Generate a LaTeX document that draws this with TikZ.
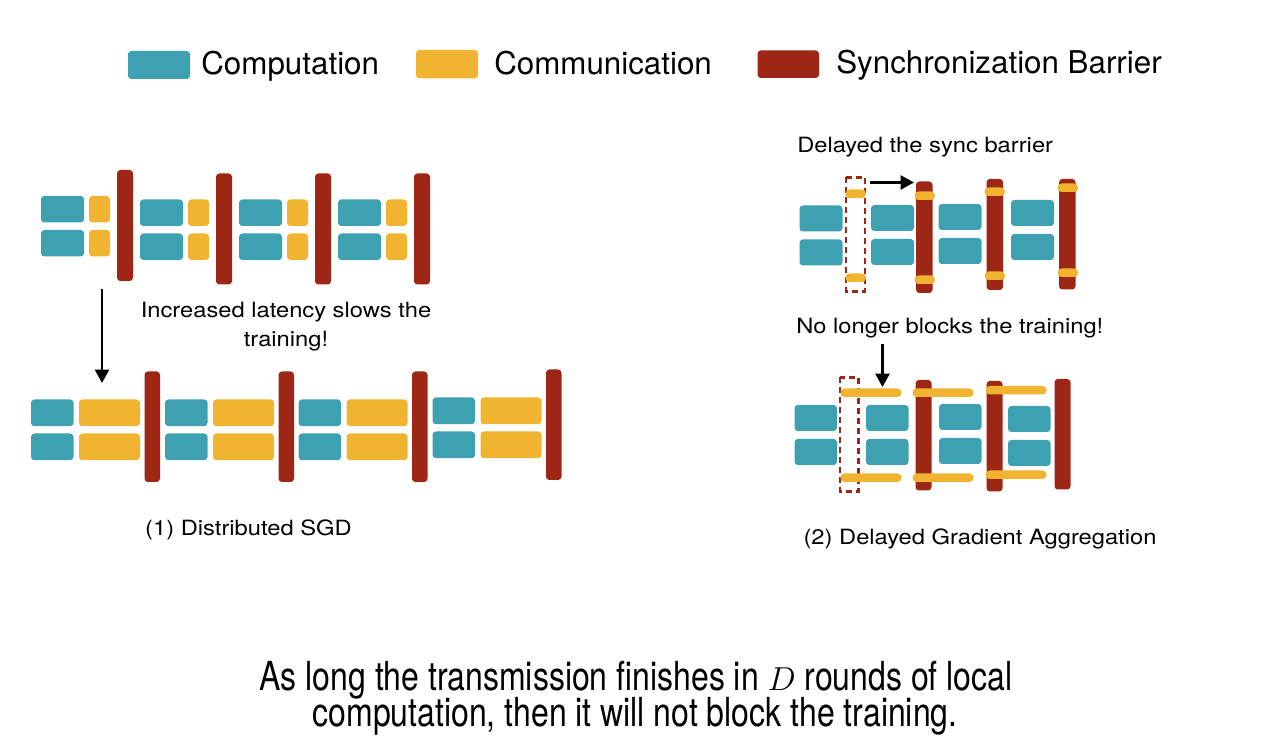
\documentclass[tikz,border=0pt]{standalone}
\usepackage{fontspec}
\setmainfont{TeX Gyre Heros}
\newfontfamily\labelfont{TeX Gyre Heros}[FakeStretch=1.13]
\newfontfamily\notefont{TeX Gyre Heros}[FakeStretch=0.8]
\usetikzlibrary{arrows,arrows.meta}
\definecolor{petrolblue}{RGB}{62,161,178}
\definecolor{saffron}{RGB}{240,180,48}
\definecolor{rust}{RGB}{158,38,20}

\begin{document}
\begin{tikzpicture}[x=0.75pt, y=-0.75pt, >={Triangle[length=10pt,width=10.5pt]},
    compbox/.style={fill=petrolblue, rounded corners=2.5pt},
    commbox/.style={fill=saffron, rounded corners=2.5pt},
    barbox/.style={fill=rust, rounded corners=2.5pt},
    pill/.style={fill=saffron, rounded corners=3pt},
    dashbox/.style={draw=rust, line width=2pt, dash pattern=on 4.5pt off 3pt},
    pointer/.style={line width=1.8pt, ->},
    legend/.style={anchor=base west, inner sep=0pt, font=\fontsize{23.5}{28}\selectfont},
    caption/.style={inner sep=0pt, font=\labelfont\fontsize{15.75}{21.75}\selectfont}]

    \useasboundingbox (0,0) rectangle (1286,748);

    % legend
    \fill[compbox] (128,51) rectangle (190,79);
    \node[legend] (lcomp) at (201,75) {Computation};
    \fill[commbox] (416,50) rectangle (478,78.5);
    \node[legend] (lcomm) at (494,75) {Communication};
    \fill[barbox] (757.5,50.5) rectangle (819,78);
    \node[legend] (lsync) at (836,74) {Synchronization Barrier};

    % (1) distributed SGD, short communication
    \foreach \x/\y in {41/196, 140/199.5, 239/199.5, 338/199.5} {
        \fill[compbox] (\x,\y) rectangle ++(43,26.5);
        \fill[compbox] (\x,\y+34) rectangle ++(43,26.5);
        \fill[commbox] (\x+48,\y) rectangle ++(21,26.5);
        \fill[commbox] (\x+48,\y+34) rectangle ++(21,26.5);
        \fill[barbox] (\x+76,\y-26) rectangle ++(16,111);
    }

    \coordinate (sgdtop) at (102,289);
    \coordinate (sgdbot) at (102,383);
    \draw[pointer] (sgdtop) -- (sgdbot);
    \node[caption, anchor=base, align=center] (slowtxt) at (286,346.5) {Increased latency slows the\\training!};

    % (1) distributed SGD, long communication
    \foreach \x/\y in {31/399.5, 165/399.5, 298.5/399.5, 432.5/397.5} {
        \fill[compbox] (\x,\y) rectangle ++(42.5,26.7);
        \fill[compbox] (\x,\y+34) rectangle ++(42.5,26.7);
        \fill[commbox] (\x+48,\y) rectangle ++(61,26.7);
        \fill[commbox] (\x+48,\y+34) rectangle ++(61,26.7);
        \fill[barbox] (\x+113.5,\y-28) rectangle ++(15.5,110.5);
    }
    \node[caption, anchor=base] (sgdtxt) at (248.5,536) {(1) Distributed SGD};

    % (2) delayed aggregation, short communication
    \node[caption, anchor=base west] (delaytxt) at (797,152.5) {Delayed the sync barrier};
    \foreach \x/\y in {799.5/205.5, 871/205, 938.5/204, 1011/200} {
        \fill[compbox] (\x,\y) rectangle ++(43,26);
        \fill[compbox] (\x,\y+34) rectangle ++(43,26);
    }
    \foreach \x/\t/\b in {916/181.5/293, 986.5/179/290, 1059/179/289.5}
        \fill[barbox] (\x,\t) rectangle (\x+16.5,\b);
    \draw[dashbox] (846,177.5) rectangle (865,291.5);
    \foreach \x/\t/\b in {845.5/189.5/273.5, 914.5/191.5/275.5, 984.5/187.5/271.5, 1057.5/183.5/268.5} {
        \fill[pill] (\x,\t) rectangle ++(20.5,8.5);
        \fill[pill] (\x,\b) rectangle ++(20.5,8.5);
    }
    \coordinate (delayA) at (870,182.5);
    \coordinate (delayB) at (914,182.5);
    \draw[pointer] (delayA) -- (delayB);

    % (2) delayed aggregation, long communication
    \node[caption, anchor=base west] (blocktxt) at (796,334) {No longer blocks the training!};
    \foreach \x/\y in {794.5/405, 866/405, 939/404, 1008/406} {
        \fill[compbox] (\x,\y) rectangle ++(42.5,26);
        \fill[compbox] (\x,\y+34) rectangle ++(42.5,26);
    }
    \foreach \x/\t/\b in {915.5/380/490.5, 986.5/381/491.5, 1054.5/379/489.5}
        \fill[barbox] (\x,\t) rectangle (\x+16,\b);
    \draw[dashbox] (840,377.5) rectangle (858.5,491.5);
    \foreach \x/\t/\b in {840.5/388.5/473.5, 912.5/388.5/473.5, 985.5/386/470.5} {
        \fill[pill] (\x,\t) rectangle ++(61,8.5);
        \fill[pill] (\x,\b) rectangle ++(61,8.5);
    }
    \coordinate (blockA) at (882.5,344);
    \coordinate (blockB) at (882.5,387);
    \draw[pointer] (blockA) -- (blockB);
    \node[caption, anchor=base] (dgatxt) at (980,545) {(2) Delayed Gradient Aggregation};

    % take-away
    \node[anchor=base, inner sep=0pt, font=\notefont\fontsize{30}{36}\selectfont] (noteA) at (636,690) {As long the transmission finishes in $D$ rounds of local};
    \node[anchor=base, inner sep=0pt, font=\notefont\fontsize{30}{36}\selectfont] (noteB) at (635,726) {computation, then it will not block the training.};

\end{tikzpicture}
\end{document}
